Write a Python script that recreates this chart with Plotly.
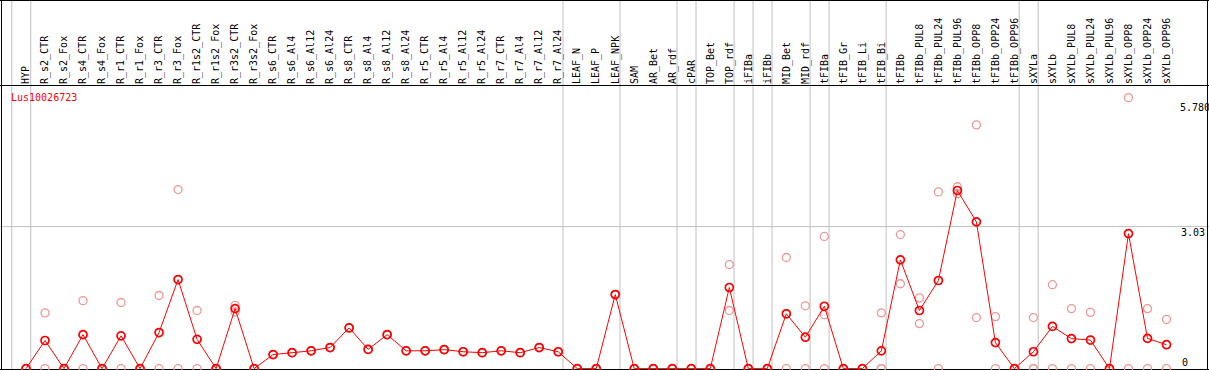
import plotly.graph_objects as go

categories = ["HYP", "R_s2_CTR", "R_s2_Fox", "R_s4_CTR", "R_s4_Fox", "R_r1_CTR", "R_r1_Fox",
              "R_r3_CTR", "R_r3_Fox", "R_r1s2_CTR", "R_r1s2_Fox", "R_r3s2_CTR", "R_r3s2_Fox",
              "R_s6_CTR", "R_s6_Al4", "R_s6_Al12", "R_s6_Al24", "R_s8_CTR", "R_s8_Al4",
              "R_s8_Al12", "R_s8_Al24", "R_r5_CTR", "R_r5_Al4", "R_r5_Al12", "R_r5_Al24",
              "R_r7_CTR", "R_r7_Al4", "R_r7_Al12", "R_r7_Al24", "LEAF_N", "LEAF_P", "LEAF_NPK",
              "SAM", "AR_Bet", "AR_rdf", "cPAR", "TOP_Bet", "TOP_rdf", "iFIBa", "iFIBb",
              "MID_Bet", "MID_rdf", "tFIBa", "tFIB_Gr", "tFIB_Li", "tFIB_Bi", "tFIBb",
              "tFIBb_PUL8", "tFIBb_PUL24", "tFIBb_PUL96", "tFIBb_OPP8", "tFIBb_OPP24",
              "tFIBb_OPP96", "sXYLa", "sXYLb", "sXYLb_PUL8", "sXYLb_PUL24", "sXYLb_PUL96",
              "sXYLb_OPP8", "sXYLb_OPP24", "sXYLb_OPP96"]

mean_values = [0, 0.60, 0, 0.725, 0, 0.70, 0, 0.77, 1.90, 0.625, 0, 1.28, 0,
               0.30, 0.34, 0.38, 0.45, 0.87, 0.41, 0.725, 0.38, 0.38, 0.405, 0.36, 0.34,
               0.38, 0.34, 0.45, 0.36, 0, 0, 1.58,
               0, 0, 0, 0, 0, 1.73, 0, 0,
               1.17, 0.67, 1.33, 0, 0, 0.38, 2.32,
               1.24, 1.88, 3.80, 3.13, 0.555,
               0, 0.36, 0.90, 0.64, 0.61, 0,
               2.88, 0.645, 0.51]

rep_a = [0, 1.19, 0, 1.45, 0, 1.41, 0, 1.56, 3.82, 1.24, 0, 1.35, 0,
         0.30, 0.34, 0.38, 0.45, 0.87, 0.41, 0.725, 0.38, 0.38, 0.405, 0.36, 0.34,
         0.38, 0.34, 0.45, 0.36, 0, 0, 1.58,
         0, 0, 0, 0, 0, 2.22, 0, 0,
         2.37, 1.34, 2.82, 0, 0, 1.19, 2.86,
         1.51, 3.77, 3.88, 5.20, 1.11,
         0, 1.09, 1.79, 1.28, 1.20, 0,
         5.78, 1.28, 1.05]

rep_b = [0, 0, 0, 0, 0, 0, 0, 0, 0, 0, 0, 1.21, 0,
         0.30, 0.34, 0.38, 0.45, 0.87, 0.41, 0.725, 0.38, 0.38, 0.405, 0.36, 0.34,
         0.38, 0.34, 0.45, 0.36, 0, 0, 1.58,
         0, 0, 0, 0, 0, 1.24, 0, 0,
         0, 0, 1.15, 0, 0, 0, 1.81,
         0.96, 0, 3.73, 1.09, 0,
         0, 0, 0, 0, 0, 0,
         0, 0, 0]

rep_c = [None] * 42 + [0, None, None, 0] + [None] * 7 + [0] + [None] * 7

group_ends = [-1, 0, 28, 31, 34, 35, 37, 38, 39, 41, 42, 45, 52, 53, 60]
tick_values = [0, 3.03, 5.78]
tick_labels = ["0", "3.03", "5.780"]
gene_name = "Lus10026723"

W, H = 1209, 370
ML, MR, MT, MB = 1, 39, 85, 1
PW, PH = W - ML - MR, H - MT - MB

x_idx = list(range(len(categories)))

fig = go.Figure()

rep_x, rep_y = [], []
for reps in (rep_a, rep_b, rep_c):
    for i, v in enumerate(reps):
        if v is not None:
            rep_x.append(i)
            rep_y.append(v)

fig.add_trace(go.Scatter(
    x=rep_x, y=rep_y, mode="markers", cliponaxis=False,
    marker=dict(symbol="circle-open", size=8, color="rgb(240,150,150)", line=dict(width=1.3)),
    hoverinfo="skip", showlegend=False))

fig.add_trace(go.Scatter(
    x=x_idx, y=mean_values, mode="lines+markers", cliponaxis=False,
    line=dict(color="rgb(255,0,0)", width=1),
    marker=dict(symbol="circle-open", size=8, color="rgb(255,0,0)", line=dict(width=1.7)),
    showlegend=False))

def px_x(p):
    return (p - ML) / PW

def px_y(p):
    return (H - MB - p) / PH

shapes = []
for g in group_ends:
    shapes.append(dict(type="line", xref="x", yref="paper", x0=g + 0.25, x1=g + 0.25,
                       y0=px_y(H), y1=px_y(0), line=dict(color="#c0c0c0", width=1), layer="below"))
shapes.append(dict(type="line", xref="paper", yref="y", x0=px_x(0), x1=px_x(W),
                   y0=tick_values[1], y1=tick_values[1], line=dict(color="#c0c0c0", width=1), layer="below"))
black = dict(color="black", width=1)
shapes += [
    dict(type="line", xref="paper", yref="paper", x0=px_x(0), x1=px_x(W), y0=px_y(0.5), y1=px_y(0.5), line=black),
    dict(type="line", xref="paper", yref="paper", x0=px_x(0), x1=px_x(W), y0=px_y(85.5), y1=px_y(85.5), line=black),
    dict(type="line", xref="paper", yref="paper", x0=px_x(0), x1=px_x(W), y0=px_y(369.5), y1=px_y(369.5), line=black, layer="below"),
    dict(type="line", xref="paper", yref="paper", x0=px_x(1.5), x1=px_x(1.5), y0=px_y(0), y1=px_y(H), line=black),
    dict(type="line", xref="paper", yref="paper", x0=px_x(1207.5), x1=px_x(1207.5), y0=px_y(0), y1=px_y(H), line=black),
]

annotations = [dict(xref="paper", yref="paper", x=px_x(9), y=px_y(97), text=gene_name,
                    showarrow=False, xanchor="left", yanchor="middle",
                    font=dict(family="DejaVu Sans Mono", size=10, color="red"))]
label_pos = [(1180, 362), (1179, 232), (1178, 107)]
for (lx, ly), t in zip(label_pos, tick_labels):
    annotations.append(dict(xref="paper", yref="paper", x=px_x(lx), y=px_y(ly), text=t,
                            showarrow=False, xanchor="left", yanchor="middle",
                            font=dict(family="DejaVu Sans Mono", size=10, color="black")))

sp = 19.008
fig.update_layout(
    width=W, height=H,
    margin=dict(l=ML, r=MR, t=MT, b=MB, pad=0),
    paper_bgcolor="white", plot_bgcolor="white",
    xaxis=dict(range=[(1 - 26) / sp, (1170 - 26) / sp], side="top", tickmode="array",
               tickvals=x_idx, ticktext=categories, tickangle=-90, ticks="",
               showgrid=False, zeroline=False, showline=False, automargin=False,
               tickfont=dict(family="DejaVu Sans Mono", size=10, color="black")),
    yaxis=dict(range=[-0.008, 6.05], showticklabels=False, showgrid=False, zeroline=False,
               showline=False, ticks="", automargin=False),
    shapes=shapes, annotations=annotations,
)

fig.write_html("out.html", config={"displayModeBar": False},
               post_script="document.body.style.margin='0px';document.body.style.padding='0px';")
